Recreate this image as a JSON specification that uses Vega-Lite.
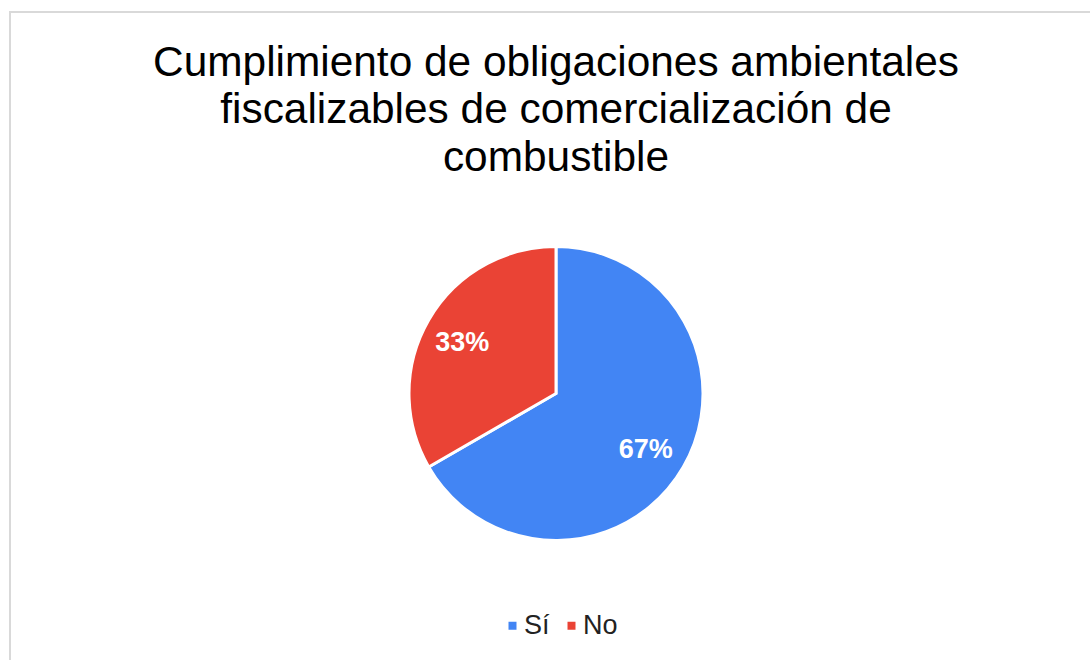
{
  "$schema": "https://vega.github.io/schema/vega-lite/v6.json",
  "width": 1092,
  "height": 763,
  "autosize": {"type": "none"},
  "padding": {"left": 10, "top": 12, "right": -12, "bottom": -115},
  "background": "white",
  "view": {"stroke": "#d9d9d9", "strokeWidth": 2, "fill": "white"},
  "title": {
    "text": ["Cumplimiento de obligaciones ambientales", "fiscalizables de comercialización de", "combustible"],
    "font": "Liberation Sans",
    "fontSize": 42.4,
    "fontWeight": "normal",
    "lineHeight": 47.5,
    "color": "#000000",
    "anchor": "middle",
    "offset": -168
  },
  "data": {
    "values": [
      {"categoria": "Sí", "valor": 66.67, "etiqueta": "67%"},
      {"categoria": "No", "valor": 33.33, "etiqueta": "33%"}
    ]
  },
  "encoding": {
    "theta": {"field": "valor", "type": "quantitative", "stack": true},
    "order": {"field": "categoria", "sort": "descending"},
    "color": {
      "field": "categoria",
      "type": "nominal",
      "scale": {"domain": ["Sí", "No"], "range": ["#4285F4", "#EA4335"]},
      "legend": {
        "title": null,
        "orient": "none",
        "direction": "horizontal",
        "legendX": 489,
        "legendY": 600,
        "padding": 0,
        "symbolType": "square",
        "symbolSize": 64,
        "symbolStrokeWidth": 0,
        "labelFont": "Liberation Sans",
        "labelFontSize": 27,
        "labelColor": "#222222",
        "labelOffset": -2,
        "columnPadding": 8
      }
    }
  },
  "layer": [
    {"mark": {"type": "arc", "outerRadius": 147, "stroke": "white", "strokeWidth": 3}},
    {
      "mark": {"type": "text", "radius": 106, "font": "Liberation Sans", "fontWeight": "bold", "fontSize": 27, "baseline": "middle", "align": "center", "dx": -2, "dy": 3},
      "encoding": {
        "text": {"field": "etiqueta"},
        "color": {"value": "white"},
        "detail": {"field": "categoria"}
      }
    }
  ]
}
